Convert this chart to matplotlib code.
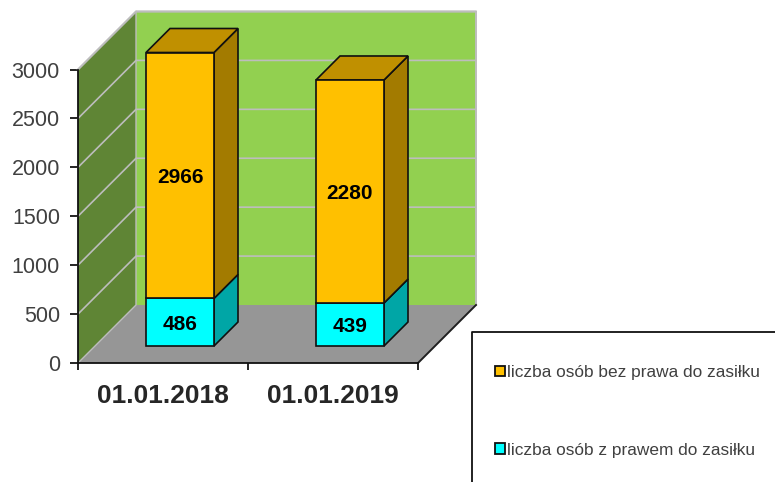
import numpy as np
import matplotlib
matplotlib.use('Agg')
import matplotlib.pyplot as plt
from matplotlib.patches import Polygon, Patch
from matplotlib.lines import Line2D

plt.rcParams['font.family'] = ['Liberation Sans', 'DejaVu Sans']

# dane
categories = ['01.01.2018', '01.01.2019']
z_prawem = [486, 439]
bez_prawa = [2966, 2280]
label_bez = 'liczba osób bez prawa do zasiłku'
label_z = 'liczba osób z prawem do zasiłku'
y_ticks = [0, 500, 1000, 1500, 2000, 2500, 3000]

W, H = 775, 482
fig = plt.figure(figsize=(W / 100, H / 100), dpi=100)
# przednia plaszczyzna osi: x 78-418 px, y 69.5-363 px
ax = fig.add_axes([78 / W, 1 - 363 / H, 340 / W, 293.5 / H])
ax.set_xlim(0, 2)
ax.set_ylim(0, 3000)
ax.patch.set_visible(False)

ux = 340 / 2      # px na jednostke x
uy = 293.5 / 3000 # px na jednostke y
WALL = 58         # glebokosc wykresu w px


# punkt przesuniety w glab o d pikseli
def pr(x, v, d=0):
    return (x + d / ux, v + d / uy)


def face(points, color, z, edge='none', lw=0):
    ax.add_patch(Polygon(points, closed=True, facecolor=color, edgecolor=edge,
                         linewidth=lw, clip_on=False, zorder=z, joinstyle='miter'))


def bar_label(x, y, txt):
    ax.annotate(txt, (x, y), xytext=(0, -1.5), textcoords='offset points',
                ha='center', va='center', fontsize=15, fontweight='bold',
                color='black', zorder=6)


# sciany i podloga
face([pr(0, 0, WALL), pr(2, 0, WALL), pr(2, 3000, WALL), pr(0, 3000, WALL)], '#92D050', 1)
face([pr(0, 0), pr(0, 0, WALL), pr(0, 3000, WALL), pr(0, 3000)], '#5F8535', 1)
face([pr(0, 0), pr(2, 0), pr(2, 0, WALL), pr(0, 0, WALL)], '#969696', 1)

for t in y_ticks[1:]:
    xs, ys = zip(pr(0, t), pr(0, t, WALL), pr(2, t, WALL))
    ax.plot(xs, ys, color='#BDBDBD', lw=1.2, clip_on=False, zorder=2)
xs, ys = zip(pr(0, 0), pr(0, 0, WALL), pr(0, 3000, WALL))
ax.plot(xs, ys, color='#BDBDBD', lw=1.0, clip_on=False, zorder=2)
xs, ys = zip(pr(0, 3000), pr(0, 3000, WALL), pr(2, 3000, WALL), pr(2, 0, WALL))
ax.plot(xs, ys, color='#BDBDBD', lw=1.4, clip_on=False, zorder=2)
xs, ys = zip(pr(2, 0), pr(2, 0, WALL))
ax.plot(xs, ys, color='#202020', lw=1.4, clip_on=False, zorder=3)

# slupki
width = 0.4
d0, d1 = 17, 41
colors_z = ('#00FFFF', '#00A6A6')
colors_bez = ('#FFC000', '#A37B00', '#C09000')
for i in range(len(categories)):
    left = i + 0.5 - width / 2
    right = left + width
    v0 = 0
    v1 = z_prawem[i]
    v2 = min(v1 + bez_prawa[i], 3000)  # os ucina slupek na 3000

    face([pr(right, v0, d0), pr(right, v0, d1), pr(right, v1, d1), pr(right, v1, d0)],
         colors_z[1], 4, '#101010', 1.2)
    face([pr(left, v0, d0), pr(right, v0, d0), pr(right, v1, d0), pr(left, v1, d0)],
         colors_z[0], 5, '#101010', 1.2)
    face([pr(right, v1, d0), pr(right, v1, d1), pr(right, v2, d1), pr(right, v2, d0)],
         colors_bez[1], 4, '#101010', 1.2)
    face([pr(left, v1, d0), pr(right, v1, d0), pr(right, v2, d0), pr(left, v2, d0)],
         colors_bez[0], 5, '#101010', 1.2)
    face([pr(left, v2, d0), pr(right, v2, d0), pr(right, v2, d1), pr(left, v2, d1)],
         colors_bez[2], 4, '#101010', 1.2)

    bar_label(*pr(i + 0.5, v0 + v1 / 2, d0), str(z_prawem[i]))
    bar_label(*pr(i + 0.5, (v1 + v2) / 2, d0), str(bez_prawa[i]))

# osie
for s in ('top', 'right'):
    ax.spines[s].set_visible(False)
for s in ('left', 'bottom'):
    ax.spines[s].set_linewidth(1.3)
    ax.spines[s].set_color('#101010')
    ax.spines[s].set_zorder(7)
ax.set_yticks(y_ticks)
ax.tick_params(axis='y', length=5.5, width=1.2, labelsize=15.5, labelcolor='#404040', pad=7.5)
ax.set_xticks([0, 1, 2])
ax.set_xticklabels([])
ax.tick_params(axis='x', which='major', length=5, width=1.2)
ax.set_xticks([0.5, 1.5], minor=True)
ax.set_xticklabels(categories, minor=True, fontsize=19, fontweight='bold', color='#262626')
ax.tick_params(axis='x', which='minor', length=0, pad=15)

# legenda: ramka wychodzi poza obraz, widac tylko gore i lewa krawedz
fig.add_artist(Line2D([472 / W, 472 / W, 1], [0, 1 - 332 / H, 1 - 332 / H],
                      color='#101010', lw=1.3))
handles = [Patch(facecolor=colors_bez[0], edgecolor='#101010', linewidth=1.3),
           Patch(facecolor=colors_z[0], edgecolor='#101010', linewidth=1.3)]
leg = fig.legend(handles, [label_bez, label_z], loc='upper left',
                 bbox_to_anchor=(495 / W, 1 - 365 / H), borderaxespad=0, borderpad=0,
                 frameon=False, fontsize=12.45, labelcolor='#404040', handlelength=0.55,
                 handleheight=0.55, handletextpad=0.17, labelspacing=3.62)

fig.savefig('out.png', dpi=100)
